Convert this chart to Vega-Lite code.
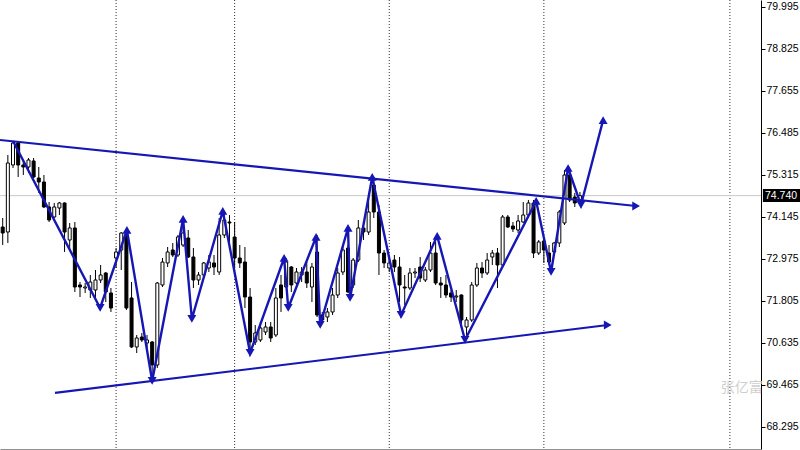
{
  "$schema": "https://vega.github.io/schema/vega-lite/v6.json",
  "autosize": "none",
  "width": 761,
  "height": 449,
  "padding": {"left": 0, "top": 0, "right": 39, "bottom": 1},
  "background": "white",
  "config": {"view": {"stroke": null}},
  "datasets": {
    "candles": [
      {"i":0,"o":73.866,"h":74.117,"l":73.365,"c":73.699},
      {"i":1,"o":73.727,"h":75.872,"l":73.421,"c":75.649},
      {"i":2,"o":75.594,"h":76.262,"l":75.510,"c":76.206},
      {"i":3,"o":76.206,"h":76.262,"l":75.259,"c":75.594},
      {"i":4,"o":75.594,"h":75.733,"l":75.315,"c":75.538},
      {"i":5,"o":75.538,"h":75.789,"l":75.371,"c":75.733},
      {"i":6,"o":75.705,"h":75.789,"l":75.231,"c":75.259},
      {"i":7,"o":75.231,"h":75.538,"l":74.814,"c":75.120},
      {"i":8,"o":75.120,"h":75.315,"l":74.396,"c":74.424},
      {"i":9,"o":74.424,"h":74.563,"l":74.006,"c":74.061},
      {"i":10,"o":74.145,"h":74.535,"l":74.117,"c":74.424},
      {"i":11,"o":74.396,"h":74.563,"l":74.201,"c":74.535},
      {"i":12,"o":74.535,"h":74.550,"l":73.170,"c":73.727},
      {"i":13,"o":73.504,"h":73.978,"l":73.226,"c":73.839},
      {"i":14,"o":73.839,"h":74.006,"l":72.056,"c":72.195},
      {"i":15,"o":72.251,"h":72.334,"l":71.916,"c":72.195},
      {"i":16,"o":72.167,"h":72.306,"l":72.028,"c":72.195},
      {"i":17,"o":72.111,"h":72.529,"l":71.889,"c":72.334},
      {"i":18,"o":72.111,"h":72.669,"l":71.889,"c":72.390},
      {"i":19,"o":72.390,"h":72.808,"l":72.306,"c":72.529},
      {"i":20,"o":72.585,"h":72.613,"l":71.777,"c":72.056},
      {"i":21,"o":72.028,"h":72.167,"l":71.499,"c":71.610},
      {"i":22,"o":73.003,"h":73.281,"l":72.724,"c":73.170},
      {"i":23,"o":73.226,"h":73.727,"l":72.669,"c":73.699},
      {"i":24,"o":73.644,"h":73.783,"l":71.555,"c":71.610},
      {"i":25,"o":71.889,"h":72.334,"l":70.496,"c":70.524},
      {"i":26,"o":70.524,"h":70.858,"l":70.356,"c":70.774},
      {"i":27,"o":70.802,"h":70.914,"l":70.663,"c":70.719},
      {"i":28,"o":70.635,"h":70.858,"l":70.496,"c":70.719},
      {"i":29,"o":70.663,"h":70.690,"l":69.660,"c":70.022},
      {"i":30,"o":70.022,"h":72.334,"l":69.939,"c":72.306},
      {"i":31,"o":72.251,"h":73.003,"l":72.195,"c":72.891},
      {"i":32,"o":72.864,"h":73.309,"l":72.752,"c":73.170},
      {"i":33,"o":73.226,"h":73.421,"l":73.031,"c":73.086},
      {"i":34,"o":73.086,"h":73.644,"l":73.031,"c":73.588},
      {"i":35,"o":73.365,"h":74.061,"l":73.309,"c":73.699},
      {"i":36,"o":73.560,"h":73.783,"l":73.003,"c":73.031},
      {"i":37,"o":73.031,"h":73.281,"l":72.167,"c":72.390},
      {"i":38,"o":72.390,"h":72.613,"l":72.251,"c":72.529},
      {"i":39,"o":72.529,"h":72.891,"l":72.474,"c":72.864},
      {"i":40,"o":72.724,"h":73.086,"l":72.613,"c":72.891},
      {"i":41,"o":72.864,"h":73.086,"l":72.529,"c":72.752},
      {"i":42,"o":72.613,"h":74.117,"l":72.529,"c":73.644},
      {"i":43,"o":73.644,"h":74.300,"l":73.560,"c":74.061},
      {"i":44,"o":74.006,"h":74.200,"l":73.421,"c":73.978},
      {"i":45,"o":73.588,"h":74.006,"l":72.724,"c":73.003},
      {"i":46,"o":73.003,"h":73.365,"l":72.724,"c":72.864},
      {"i":47,"o":72.891,"h":73.309,"l":71.610,"c":71.916},
      {"i":48,"o":71.916,"h":72.167,"l":70.384,"c":70.663},
      {"i":49,"o":70.663,"h":71.136,"l":70.579,"c":70.914},
      {"i":50,"o":70.719,"h":71.220,"l":70.663,"c":71.053},
      {"i":51,"o":70.941,"h":71.220,"l":70.858,"c":71.081},
      {"i":52,"o":71.081,"h":71.220,"l":70.663,"c":70.774},
      {"i":53,"o":70.858,"h":72.167,"l":70.802,"c":71.889},
      {"i":54,"o":72.251,"h":72.529,"l":71.499,"c":71.889},
      {"i":55,"o":72.195,"h":73.003,"l":72.167,"c":72.891},
      {"i":56,"o":72.752,"h":72.780,"l":72.056,"c":72.251},
      {"i":57,"o":72.306,"h":72.724,"l":72.251,"c":72.613},
      {"i":58,"o":72.529,"h":72.752,"l":72.334,"c":72.613},
      {"i":59,"o":72.613,"h":72.891,"l":72.167,"c":72.306},
      {"i":60,"o":72.195,"h":72.864,"l":71.777,"c":72.752},
      {"i":61,"o":73.170,"h":73.644,"l":71.359,"c":71.415},
      {"i":62,"o":71.415,"h":71.499,"l":71.192,"c":71.276},
      {"i":63,"o":71.359,"h":71.610,"l":71.220,"c":71.499},
      {"i":64,"o":71.499,"h":72.167,"l":71.415,"c":71.972},
      {"i":65,"o":71.972,"h":72.724,"l":71.889,"c":72.585},
      {"i":66,"o":72.613,"h":73.309,"l":72.529,"c":73.226},
      {"i":67,"o":73.281,"h":73.365,"l":72.028,"c":72.056},
      {"i":68,"o":72.251,"h":73.003,"l":72.167,"c":72.947},
      {"i":69,"o":72.947,"h":74.061,"l":72.891,"c":73.839},
      {"i":70,"o":73.839,"h":74.006,"l":73.504,"c":73.727},
      {"i":71,"o":73.727,"h":74.814,"l":73.644,"c":74.284},
      {"i":72,"o":75.036,"h":75.259,"l":74.117,"c":74.284},
      {"i":73,"o":74.284,"h":74.479,"l":72.529,"c":73.142},
      {"i":74,"o":73.142,"h":73.226,"l":72.724,"c":72.864},
      {"i":75,"o":72.724,"h":73.003,"l":72.613,"c":72.864},
      {"i":76,"o":72.947,"h":73.086,"l":72.613,"c":72.752},
      {"i":77,"o":72.752,"h":73.031,"l":71.777,"c":72.251},
      {"i":78,"o":72.195,"h":72.529,"l":71.694,"c":72.167},
      {"i":79,"o":72.167,"h":72.724,"l":72.111,"c":72.585},
      {"i":80,"o":72.585,"h":72.724,"l":72.446,"c":72.613},
      {"i":81,"o":72.752,"h":73.031,"l":72.334,"c":72.446},
      {"i":82,"o":72.390,"h":72.752,"l":72.334,"c":72.669},
      {"i":83,"o":72.669,"h":73.449,"l":72.613,"c":73.142},
      {"i":84,"o":73.142,"h":73.449,"l":72.251,"c":72.306},
      {"i":85,"o":72.306,"h":72.474,"l":71.889,"c":72.251},
      {"i":86,"o":72.251,"h":72.529,"l":71.889,"c":71.972},
      {"i":87,"o":72.028,"h":72.111,"l":71.777,"c":71.916},
      {"i":88,"o":71.916,"h":72.111,"l":71.777,"c":71.944},
      {"i":89,"o":71.972,"h":71.990,"l":71.053,"c":71.276},
      {"i":90,"o":71.081,"h":71.359,"l":70.858,"c":71.276},
      {"i":91,"o":71.276,"h":72.334,"l":71.220,"c":72.251},
      {"i":92,"o":72.251,"h":72.864,"l":72.195,"c":72.724},
      {"i":93,"o":72.724,"h":72.891,"l":72.446,"c":72.585},
      {"i":94,"o":72.585,"h":73.142,"l":72.529,"c":72.947},
      {"i":95,"o":73.031,"h":73.226,"l":72.808,"c":73.142},
      {"i":96,"o":73.142,"h":73.281,"l":72.167,"c":72.808},
      {"i":97,"o":72.808,"h":74.201,"l":72.752,"c":74.145},
      {"i":98,"o":74.145,"h":74.201,"l":73.839,"c":73.866},
      {"i":99,"o":73.894,"h":74.006,"l":73.727,"c":73.811},
      {"i":100,"o":73.783,"h":74.201,"l":73.699,"c":74.034},
      {"i":101,"o":74.006,"h":74.563,"l":73.978,"c":74.201},
      {"i":102,"o":74.201,"h":74.619,"l":74.117,"c":74.535},
      {"i":103,"o":74.535,"h":74.619,"l":73.003,"c":73.142},
      {"i":104,"o":73.142,"h":73.504,"l":73.086,"c":73.449},
      {"i":105,"o":73.476,"h":73.560,"l":72.864,"c":73.226},
      {"i":106,"o":73.142,"h":73.365,"l":72.808,"c":72.891},
      {"i":107,"o":73.170,"h":73.449,"l":73.086,"c":73.421},
      {"i":108,"o":73.421,"h":74.340,"l":73.309,"c":74.284},
      {"i":109,"o":73.978,"h":75.454,"l":73.922,"c":75.315},
      {"i":110,"o":75.315,"h":75.399,"l":74.563,"c":74.619},
      {"i":111,"o":74.702,"h":74.814,"l":74.424,"c":74.535},
      {"i":112,"o":74.619,"h":74.841,"l":74.479,"c":74.740}
    ],
    "zig": [
      {"n":1,"i":2.0,"p":76.262},
      {"n":2,"i":18.9,"p":71.611,"dir":"down"},
      {"n":3,"i":24.1,"p":73.783,"dir":"up"},
      {"n":4,"i":29.0,"p":69.577,"dir":"down"},
      {"n":5,"i":35.0,"p":74.090,"dir":"up"},
      {"n":6,"i":36.7,"p":71.304,"dir":"down"},
      {"n":7,"i":42.7,"p":74.313,"dir":"up"},
      {"n":8,"i":48.0,"p":70.357,"dir":"down"},
      {"n":9,"i":54.6,"p":73.003,"dir":"up"},
      {"n":10,"i":55.4,"p":71.611,"dir":"down"},
      {"n":11,"i":60.8,"p":73.588,"dir":"up"},
      {"n":12,"i":61.6,"p":71.137,"dir":"down"},
      {"n":13,"i":67.0,"p":73.839,"dir":"up"},
      {"n":14,"i":67.4,"p":71.889,"dir":"down"},
      {"n":15,"i":71.7,"p":75.260,"dir":"up"},
      {"n":16,"i":77.3,"p":71.416,"dir":"down"},
      {"n":17,"i":84.3,"p":73.616,"dir":"up"},
      {"n":18,"i":89.7,"p":70.719,"dir":"down"},
      {"n":19,"i":103.5,"p":74.591,"dir":"up"},
      {"n":20,"i":106.4,"p":72.613,"dir":"down"},
      {"n":21,"i":109.7,"p":75.510,"dir":"up"},
      {"n":22,"i":112.2,"p":74.480,"dir":"down"},
      {"n":23,"i":116.5,"p":76.847,"dir":"up"}
    ],
    "trend": [
      {"line":"upper","i":-0.524,"p":76.290},
      {"line":"upper","i":122.9,"p":74.452,"dir":"right"},
      {"line":"lower","i":10.15,"p":69.243},
      {"line":"lower","i":117.4,"p":71.137,"dir":"right"}
    ],
    "grid": [{"gi":22},{"gi":45},{"gi":75},{"gi":105},{"gi":141.1}],
    "price": [{"p":74.74,"label":"74.740"}],
    "mark": [{"label":"张亿富"}]
  },
  "layer": [
    {
      "data": {"name": "grid"},
      "mark": {"type": "rule", "color": "#303030", "strokeWidth": 1, "strokeDash": [1, 2]},
      "encoding": {
        "x": {"field": "gi", "type": "quantitative", "title": null,
              "scale": {"domain": [-0.524, 147.13], "nice": false, "zero": false, "padding": 0},
              "axis": {"orient": "bottom", "labels": false, "ticks": false, "grid": false, "domain": true, "domainColor": "#909090", "domainWidth": 1, "title": null}}
      }
    },
    {
      "data": {"name": "price"},
      "mark": {"type": "rule", "color": "#c8c8c8", "strokeWidth": 1},
      "encoding": {
        "y": {"field": "p", "type": "quantitative", "title": null,
              "scale": {"domain": [67.682, 80.19], "nice": false, "zero": false},
              "axis": {"orient": "right", "title": null, "grid": false,
                       "values": [68.295, 69.465, 70.635, 71.805, 72.975, 74.145, 75.315, 76.485, 77.655, 78.825, 79.995],
                       "format": ".3f", "domainColor": "#000000", "domainWidth": 1,
                       "tickColor": "#000000", "tickSize": 4, "labelPadding": 1,
                       "labelFont": "Liberation Sans", "labelFontSize": 10.5, "labelColor": "#000000"}}
      }
    },
    {
      "data": {"name": "candles"},
      "mark": {"type": "rule", "color": "#000000", "strokeWidth": 1},
      "encoding": {
        "x": {"field": "i", "type": "quantitative", "title": null},
        "y": {"field": "l", "type": "quantitative", "title": null},
        "y2": {"field": "h"}
      }
    },
    {
      "data": {"name": "candles"},
      "mark": {"type": "bar", "size": 3, "stroke": "#000000", "strokeWidth": 1},
      "encoding": {
        "x": {"field": "i", "type": "quantitative", "title": null},
        "y": {"field": "o", "type": "quantitative", "title": null},
        "y2": {"field": "c"},
        "fill": {"condition": {"test": "datum.c >= datum.o", "value": "#ffffff"}, "value": "#000000"}
      }
    },
    {
      "data": {"name": "trend"},
      "mark": {"type": "line", "color": "#1616b4", "strokeWidth": 2.2},
      "encoding": {
        "x": {"field": "i", "type": "quantitative", "title": null},
        "y": {"field": "p", "type": "quantitative", "title": null},
        "detail": {"field": "line"}
      }
    },
    {
      "data": {"name": "zig"},
      "mark": {"type": "line", "color": "#1616b4", "strokeWidth": 2.4},
      "encoding": {
        "x": {"field": "i", "type": "quantitative", "title": null},
        "y": {"field": "p", "type": "quantitative", "title": null},
        "order": {"field": "n"}
      }
    },
    {
      "data": {"name": "zig"},
      "transform": [{"filter": "isValid(datum.dir)"}],
      "mark": {"type": "point", "filled": true, "opacity": 1, "size": 80, "color": "#1616b4"},
      "encoding": {
        "x": {"field": "i", "type": "quantitative", "title": null},
        "y": {"field": "p", "type": "quantitative", "title": null},
        "shape": {"field": "dir", "type": "nominal", "legend": null,
                  "scale": {"domain": ["up", "down", "right"], "range": ["triangle-up", "triangle-down", "triangle-right"]}}
      }
    },
    {
      "data": {"name": "trend"},
      "transform": [{"filter": "isValid(datum.dir)"}],
      "mark": {"type": "point", "filled": true, "opacity": 1, "size": 80, "color": "#1616b4"},
      "encoding": {
        "x": {"field": "i", "type": "quantitative", "title": null},
        "y": {"field": "p", "type": "quantitative", "title": null},
        "shape": {"field": "dir", "type": "nominal", "legend": null,
                  "scale": {"domain": ["up", "down", "right"], "range": ["triangle-up", "triangle-down", "triangle-right"]}}
      }
    },
    {
      "data": {"name": "price"},
      "mark": {"type": "rect", "color": "#000000"},
      "encoding": {
        "x": {"datum": 147.5, "type": "quantitative"},
        "x2": {"datum": 154.7},
        "y": {"datum": 74.925, "type": "quantitative"},
        "y2": {"datum": 74.563}
      }
    },
    {
      "data": {"name": "price"},
      "mark": {"type": "text", "color": "#ffffff", "align": "left", "baseline": "middle", "font": "Liberation Sans", "fontSize": 10.5},
      "encoding": {
        "x": {"datum": 147.9, "type": "quantitative"},
        "y": {"field": "p", "type": "quantitative", "title": null},
        "text": {"field": "label"}
      }
    },
    {
      "data": {"name": "mark"},
      "mark": {"type": "text", "color": "#cfcfcf", "align": "center", "baseline": "middle", "font": "Noto Sans CJK SC", "fontSize": 14},
      "encoding": {
        "x": {"datum": 143.4, "type": "quantitative"},
        "y": {"datum": 69.38, "type": "quantitative"},
        "text": {"field": "label"}
      }
    }
  ]
}
